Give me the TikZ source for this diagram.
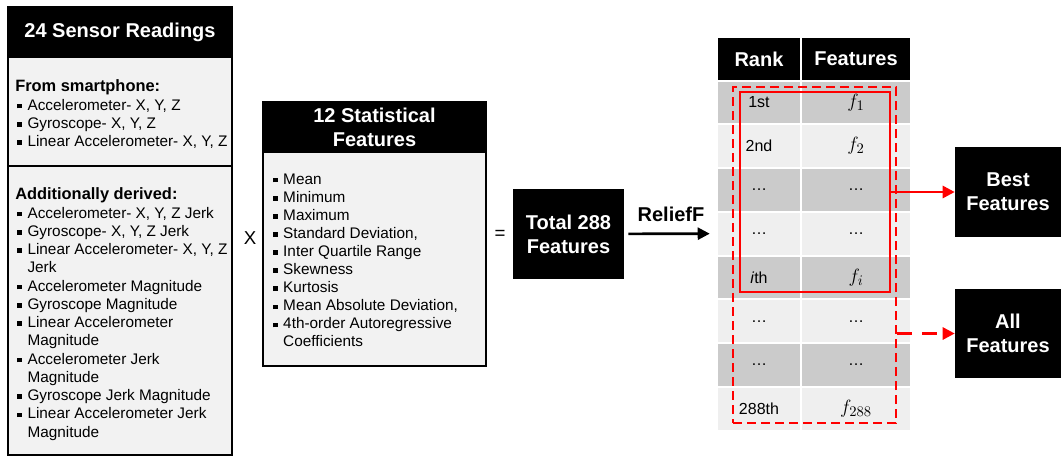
\documentclass[tikz,border=0pt]{standalone}
\usepackage{fontspec}
\setmainfont{Liberation Sans}
\usetikzlibrary{arrows.meta}

\definecolor{boxgray}{HTML}{F2F2F2}
\definecolor{rowdark}{HTML}{CBCBCB}
\definecolor{rowlight}{HTML}{EFEFEF}

% square bullet and hanging indent for the lists
\newcommand{\itm}{\makebox[7.7pt][l]{\rule[0.1em]{0.3em}{0.3em}}}
\newcommand{\ind}{\hspace*{7.7pt}}
\newcommand{\fv}[1]{{\fontsize{15}{16}\selectfont$f_{#1}$}}

\begin{document}
\begin{tikzpicture}[x=0.75pt, y=-0.75pt,
    title/.style={fill=black, text=white, font=\fontsize{15}{18}\selectfont\bfseries, align=center, inner sep=0pt},
    panel/.style={draw=black, line width=1pt, fill=boxgray, inner sep=0pt},
    head/.style={anchor=base west, inner sep=0pt, font=\fontsize{12.3}{14}\selectfont\bfseries},
    item/.style={anchor=base west, inner sep=0pt, font=\fontsize{11.5}{13.5}\selectfont},
    cell/.style={inner sep=0pt, minimum height=31.3pt, font=\fontsize{12}{14}\selectfont},
    pick/.style={draw=red, line width=1.5pt, inner sep=0pt},
    note/.style={font=\fontsize{15}{18}\selectfont\bfseries, inner sep=0pt}
]
    \useasboundingbox (0,0) rectangle (1061,458);

    % Sensor readings panel
    \node[panel, minimum width=168pt, minimum height=81.75pt] (phone) at (120,111.5) {};
    \node[panel, minimum width=168pt, minimum height=216.75pt] (derived) at (120,310.5) {};
    \node[title, draw=black, line width=1pt, minimum width=168pt, minimum height=37.5pt] (sensors) at (120,32) {24 Sensor Readings};

    \node[head] (phone-t) at (15,91) {From smartphone:};
    \foreach \txt [count=\k from 0] in {{Accelerometer- X, Y, Z}, {Gyroscope- X, Y, Z}, {Linear Accelerometer- X, Y, Z}}
        \node[item] (phone-\k) at (17,{110+18.25*\k}) {\itm\txt};

    \node[head] (derived-t) at (15,199) {Additionally derived:};
    \foreach \txt [count=\k from 0] in {
        {\itm Accelerometer- X, Y, Z Jerk},
        {\itm Gyroscope- X, Y, Z Jerk},
        {\itm Linear Accelerometer- X, Y, Z},
        {\ind Jerk},
        {\itm Accelerometer Magnitude},
        {\itm Gyroscope Magnitude},
        {\itm Linear Accelerometer},
        {\ind Magnitude},
        {\itm Accelerometer Jerk},
        {\ind Magnitude},
        {\itm Gyroscope Jerk Magnitude},
        {\itm Linear Accelerometer Jerk},
        {\ind Magnitude}}
        \node[item] (derived-\k) at (17,{218+18.25*\k}) {\txt};

    \node[font=\fontsize{14}{16}\selectfont] (times) at (250,238) {X};

    % Statistical features panel
    \node[panel, minimum width=167.25pt, minimum height=160.5pt] (statbody) at (374.5,259) {};
    \node[title, draw=black, line width=1pt, minimum width=167.25pt, minimum height=37.5pt] (stats) at (374.5,127) {12 Statistical\\Features};
    \foreach \txt [count=\k from 0] in {
        {\itm Mean},
        {\itm Minimum},
        {\itm Maximum},
        {\itm Standard Deviation,},
        {\itm Inter Quartile Range},
        {\itm Skewness},
        {\itm Kurtosis},
        {\itm Mean Absolute Deviation,},
        {\itm 4th-order Autoregressive},
        {\ind Coefficients}}
        \node[item] (stat-\k) at (272.7,{184+18.1*\k}) {\txt};

    \node[font=\fontsize{14}{16}\selectfont] (equals) at (500,235) {=};
    \node[title, minimum width=83.25pt, minimum height=67.5pt] (total) at (568.5,234) {Total 288\\Features};

    % Ranking table
    \def\rowpitch{43.75}
    \node[title, minimum width=61.5pt, minimum height=31.5pt] (rank) at (759,59) {Rank};
    \node[title, minimum width=81pt, minimum height=31.5pt] (feats) at (856,59) {Features};
    \foreach \r/\f [count=\k] in {1st/\fv{1}, 2nd/\fv{2}, \dots/\dots, \dots/\dots, \textit{i}th/\fv{i}, \dots/\dots, \dots/\dots, 288th/\fv{288}} {
        \pgfmathsetmacro{\yc}{102.4+\rowpitch*(\k-1)}
        \ifodd\k \def\shade{rowdark}\else \def\shade{rowlight}\fi
        \node[cell, fill=\shade, minimum width=61.5pt] (rank-\k) at (759,\yc) {\r};
        \node[cell, fill=\shade, minimum width=81pt] (feat-\k) at (856,\yc) {\f};
    }

    \draw[-{Triangle[length=9pt,width=9pt]}, line width=2pt, shorten <=3pt, shorten >=6pt]
        (total) -- node[note, above=8pt] (relief) {ReliefF} (rank-4.west);

    % Selected ranges
    \node[pick, minimum width=112.5pt, minimum height=150pt] (bestsel) at (815,192) {};
    \node[pick, dash pattern=on 7pt off 3.5pt, minimum width=122.25pt, minimum height=252pt] (allsel) at (814.5,255) {};

    \node[title, minimum width=79.5pt, minimum height=67.5pt] (best) at (1008,192) {Best\\Features};
    \node[title, minimum width=79.5pt, minimum height=66.75pt] (all) at (1008,333.5) {All\\Features};

    \draw[red, line width=2pt, -{Triangle[length=9pt,width=9pt]}] (bestsel.east) -- (best.west);
    \draw[red, line width=2pt, dash pattern=on 11pt off 8pt, -{Triangle[length=9pt,width=9pt]}] (allsel.east |- all) -- (all.west);
\end{tikzpicture}
\end{document}
